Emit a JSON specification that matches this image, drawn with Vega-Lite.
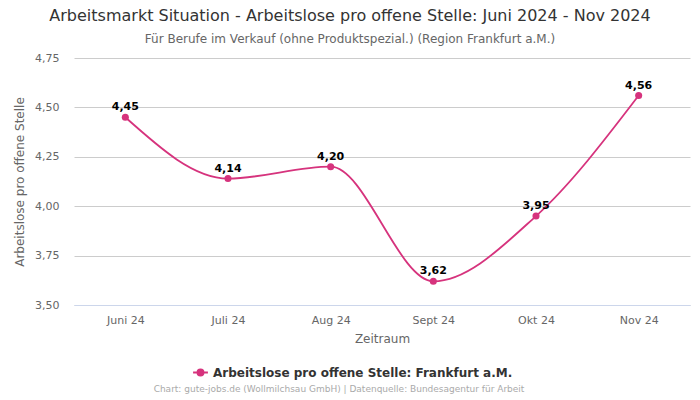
{
  "$schema": "https://vega.github.io/schema/vega-lite/v6.json",
  "width": 616,
  "height": 247,
  "autosize": {"type": "none"},
  "padding": {"left": 74, "top": 58, "right": 10, "bottom": 95},
  "background": "white",
  "title": {
    "text": "Arbeitsmarkt Situation - Arbeitslose pro offene Stelle: Juni 2024 - Nov 2024",
    "subtitle": "Für Berufe im Verkauf (ohne Produktspezial.) (Region Frankfurt a.M.)",
    "anchor": "middle",
    "dx": -32,
    "offset": 7,
    "font": "DejaVu Sans",
    "fontSize": 16,
    "fontWeight": "normal",
    "color": "#333333",
    "subtitleFont": "DejaVu Sans",
    "subtitleFontSize": 12,
    "subtitleColor": "#666666",
    "subtitlePadding": 10
  },
  "config": {
    "locale": {"number": {"decimal": ",", "thousands": ".", "grouping": [3], "currency": ["", " €"]}},
    "view": {"stroke": null},
    "font": "DejaVu Sans"
  },
  "data": {
    "values": [
      {"monat": "Juni 24", "wert": 4.45, "serie": "Arbeitslose pro offene Stelle: Frankfurt a.M."},
      {"monat": "Juli 24", "wert": 4.14, "serie": "Arbeitslose pro offene Stelle: Frankfurt a.M."},
      {"monat": "Aug 24", "wert": 4.20, "serie": "Arbeitslose pro offene Stelle: Frankfurt a.M."},
      {"monat": "Sept 24", "wert": 3.62, "serie": "Arbeitslose pro offene Stelle: Frankfurt a.M."},
      {"monat": "Okt 24", "wert": 3.95, "serie": "Arbeitslose pro offene Stelle: Frankfurt a.M."},
      {"monat": "Nov 24", "wert": 4.56, "serie": "Arbeitslose pro offene Stelle: Frankfurt a.M."}
    ]
  },
  "encoding": {
    "x": {
      "field": "monat",
      "type": "ordinal",
      "sort": null,
      "scale": {"type": "point", "padding": 0.5},
      "axis": {
        "title": "Zeitraum",
        "labelAngle": 0,
        "labelColor": "#666666",
        "labelFontSize": 11,
        "labelPadding": 9,
        "titleColor": "#666666",
        "titleFontSize": 12,
        "titleFontWeight": "normal",
        "titlePadding": 8,
        "ticks": false,
        "domain": true,
        "domainColor": "#ccd6eb",
        "grid": false
      }
    },
    "y": {
      "field": "wert",
      "type": "quantitative",
      "scale": {"domain": [3.5, 4.75], "nice": false, "zero": false},
      "axis": {
        "title": "Arbeitslose pro offene Stelle",
        "values": [3.5, 3.75, 4.0, 4.25, 4.5, 4.75],
        "format": ".2f",
        "labelColor": "#666666",
        "labelFontSize": 11,
        "labelPadding": 15,
        "titleColor": "#666666",
        "titleFontSize": 12,
        "titleFontWeight": "normal",
        "titlePadding": 8,
        "ticks": false,
        "domain": false,
        "gridColor": "#cccccc"
      }
    }
  },
  "layer": [
    {
      "mark": {"type": "line", "interpolate": "monotone", "strokeWidth": 1.8},
      "encoding": {
        "color": {
          "field": "serie",
          "type": "nominal",
          "scale": {"range": ["#d6337d"]},
          "legend": {
            "orient": "none",
            "legendX": 80,
            "legendY": 306,
            "title": "Chart: gute-jobs.de (Wollmilchsau GmbH) | Datenquelle: Bundesagentur für Arbeit",
            "titleOrient": "bottom",
            "titleAnchor": "middle",
            "titleLimit": 600,
            "titleFontSize": 9,
            "titleFontWeight": "normal",
            "titleColor": "#aaaaaa",
            "titlePadding": 6,
            "labelFontSize": 12,
            "labelFontWeight": "bold",
            "labelColor": "#333333",
            "labelLimit": 500,
            "symbolType": "M -1 0 L -0.45 0 M 0.45 0 L 1 0 M -0.4 0 A 0.4 0.4 0 1 0 0.4 0 A 0.4 0.4 0 1 0 -0.4 0",
            "symbolSize": 220,
            "symbolStrokeWidth": 2,
            "symbolFillColor": "#d6337d",
            "symbolStrokeColor": "#d6337d",
            "symbolOffset": 26
          }
        }
      }
    },
    {
      "mark": {"type": "point", "filled": true, "size": 50, "opacity": 1, "color": "#d6337d"},
      "encoding": {}
    },
    {
      "mark": {"type": "text", "dy": -10, "fontSize": 11, "fontWeight": "bold", "color": "#000000"},
      "encoding": {"text": {"field": "wert", "type": "quantitative", "format": ".2f"}}
    }
  ]
}
